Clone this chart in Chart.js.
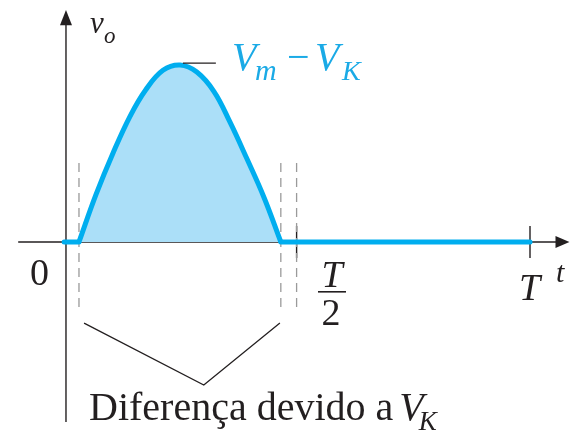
<!DOCTYPE html>
<html>
<head>
  <title>Tensão de saída - retificador de meia onda</title>
  <script src="https://cdn.jsdelivr.net/npm/chart.js"></script>
  <style>
    body { margin: 0; background: #fff; }
  </style>
</head>
<body>
  <canvas id="vo" width="570" height="432"></canvas>

  <script>
    // tempo em fração do período T, tensão em fração de (Vm - VK)
    const tempo  = [0.028, 0.065, 0.101, 0.138, 0.172, 0.209, 0.246, 0.282, 0.319, 0.353, 0.390, 0.427, 0.463];
    const tensao = [0, 0.27, 0.50, 0.71, 0.86, 0.97, 1.0, 0.96, 0.85, 0.68, 0.47, 0.25, 0];

    // trechos em zero (antes e depois da condução)
    const zeroAntesT = [-0.004, 0.028];
    const zeroDepoisT = [0.463, 1.0];

    // linhas tracejadas (início/fim da condução e T/2)
    const tracejadoT = [0.028, 0.463, 0.497];
    const tracejadoV = [0.446, -0.40];

    // chave que marca a diferença devida a VK
    const chaveT = [0.039, 0.297, 0.461];
    const chaveV = [-0.458, -0.808, -0.458];

    // traço que liga o pico ao rótulo
    const picoT = [0.252, 0.323];
    const picoV = [1.011, 1.011];

    const marcasT = [0.497, 1.0];

    const azul = '#00aeef';
    const preto = '#231f20';
    const serif = '"Liberation Serif", "DejaVu Serif", serif';

    const pts = (xs, ys) => xs.map((x, i) => ({ x: x, y: ys[i] }));

    const linhaAzul = (data) => ({
      data: data,
      borderColor: azul,
      borderWidth: 5,
      borderCapStyle: 'round',
      pointRadius: 0,
      fill: false,
      order: 1
    });

    const datasets = [
      {
        data: pts(tempo, tensao),
        borderColor: azul,
        borderWidth: 5,
        borderJoinStyle: 'round',
        backgroundColor: '#abdff8',
        fill: 'origin',
        tension: 0.4,
        pointRadius: 0,
        order: 1
      },
      linhaAzul(pts(zeroAntesT, [0, 0])),
      linhaAzul(pts(zeroDepoisT, [0, 0])),
      {
        data: pts(chaveT, chaveV),
        borderColor: preto,
        borderWidth: 1.3,
        pointRadius: 0,
        fill: false
      },
      {
        data: pts(picoT, picoV),
        borderColor: preto,
        borderWidth: 1.3,
        pointRadius: 0,
        fill: false
      }
    ];
    tracejadoT.forEach((t) => {
      datasets.push({
        data: pts([t, t], tracejadoV),
        borderColor: '#9a9a9a',
        borderWidth: 1.3,
        borderDash: [9, 6],
        pointRadius: 0,
        fill: false,
        order: 2
      });
    });

    // eixos com setas, marcas e textos
    const eixos = {
      id: 'eixos',
      beforeDatasetsDraw(chart) {
        const ctx = chart.ctx;
        const xs = chart.scales.x, ys = chart.scales.y;
        const x0 = xs.getPixelForValue(0), y0 = ys.getPixelForValue(0);
        ctx.save();
        ctx.strokeStyle = preto;
        ctx.fillStyle = preto;
        ctx.lineWidth = 1.4;
        // eixo horizontal
        ctx.beginPath();
        ctx.moveTo(xs.getPixelForValue(-0.103), y0);
        ctx.lineTo(xs.getPixelForValue(1.07), y0);
        ctx.stroke();
        ctx.beginPath();
        ctx.moveTo(xs.getPixelForValue(1.085), y0);
        ctx.lineTo(xs.getPixelForValue(1.055), y0 - 6);
        ctx.lineTo(xs.getPixelForValue(1.055), y0 + 6);
        ctx.closePath();
        ctx.fill();
        // eixo vertical
        ctx.beginPath();
        ctx.moveTo(x0, ys.getPixelForValue(-1.017));
        ctx.lineTo(x0, ys.getPixelForValue(1.25));
        ctx.stroke();
        ctx.beginPath();
        ctx.moveTo(x0, ys.getPixelForValue(1.311));
        ctx.lineTo(x0 - 6, ys.getPixelForValue(1.225));
        ctx.lineTo(x0 + 6, ys.getPixelForValue(1.225));
        ctx.closePath();
        ctx.fill();
        // marcas em T/2 e T
        marcasT.forEach((t) => {
          const px = xs.getPixelForValue(t);
          ctx.beginPath();
          ctx.moveTo(px, y0 - 16);
          ctx.lineTo(px, y0 + 16);
          ctx.stroke();
        });
        ctx.restore();
      },
      afterDraw(chart) {
        const ctx = chart.ctx;
        const xs = chart.scales.x;
        ctx.save();
        ctx.fillStyle = preto;
        ctx.textBaseline = 'alphabetic';

        // v_o
        ctx.font = 'italic 31px ' + serif;
        ctx.fillText('v', 90, 33);
        ctx.font = 'italic 23px ' + serif;
        ctx.fillText('o', 104, 43);

        // 0
        ctx.font = '38px ' + serif;
        ctx.fillText('0', 30, 285);

        // T/2
        const xm = xs.getPixelForValue(0.5) + 34;
        ctx.textAlign = 'center';
        ctx.font = 'italic 38px ' + serif;
        ctx.fillText('T', xm, 287);
        ctx.font = '38px ' + serif;
        ctx.fillText('2', xm - 1, 325);
        ctx.fillRect(xm - 14, 291, 28, 1.6);

        // T e t
        ctx.textAlign = 'left';
        ctx.font = 'italic 38px ' + serif;
        ctx.fillText('T', 519, 300);
        ctx.font = 'italic 30px ' + serif;
        ctx.fillText('t', 556, 282);

        // Vm - VK
        ctx.fillStyle = '#1aaae6';
        ctx.font = 'italic 40px ' + serif;
        ctx.fillText('V', 232, 70);
        ctx.font = 'italic 30px ' + serif;
        ctx.fillText('m', 255, 80);
        ctx.font = '40px ' + serif;
        ctx.fillText('\u2212', 287, 70);
        ctx.font = 'italic 40px ' + serif;
        ctx.fillText('V', 315, 70);
        ctx.font = 'italic 28px ' + serif;
        ctx.fillText('K', 342, 80);

        // legenda inferior
        ctx.fillStyle = preto;
        ctx.font = '40px ' + serif;
        const txt = 'Diferença devido a ';
        ctx.fillText(txt, 89, 420);
        const w = ctx.measureText(txt).width - 4;
        ctx.font = 'italic 40px ' + serif;
        ctx.fillText('V', 89 + w, 420);
        const wv = ctx.measureText('V').width;
        ctx.font = 'italic 27px ' + serif;
        ctx.fillText('K', 89 + w + wv - 5, 430);
        ctx.restore();
      }
    };

    new Chart(document.getElementById('vo'), {
      type: 'line',
      data: { datasets: datasets },
      options: {
        responsive: false,
        animation: false,
        layout: { padding: 0 },
        plugins: { legend: { display: false }, tooltip: { enabled: false } },
        scales: {
          x: { type: 'linear', display: false, min: -0.1422, max: 1.0862 },
          y: { type: 'linear', display: false, min: -1.0734, max: 1.3672 }
        }
      },
      plugins: [eixos]
    });
  </script>
</body>
</html>
